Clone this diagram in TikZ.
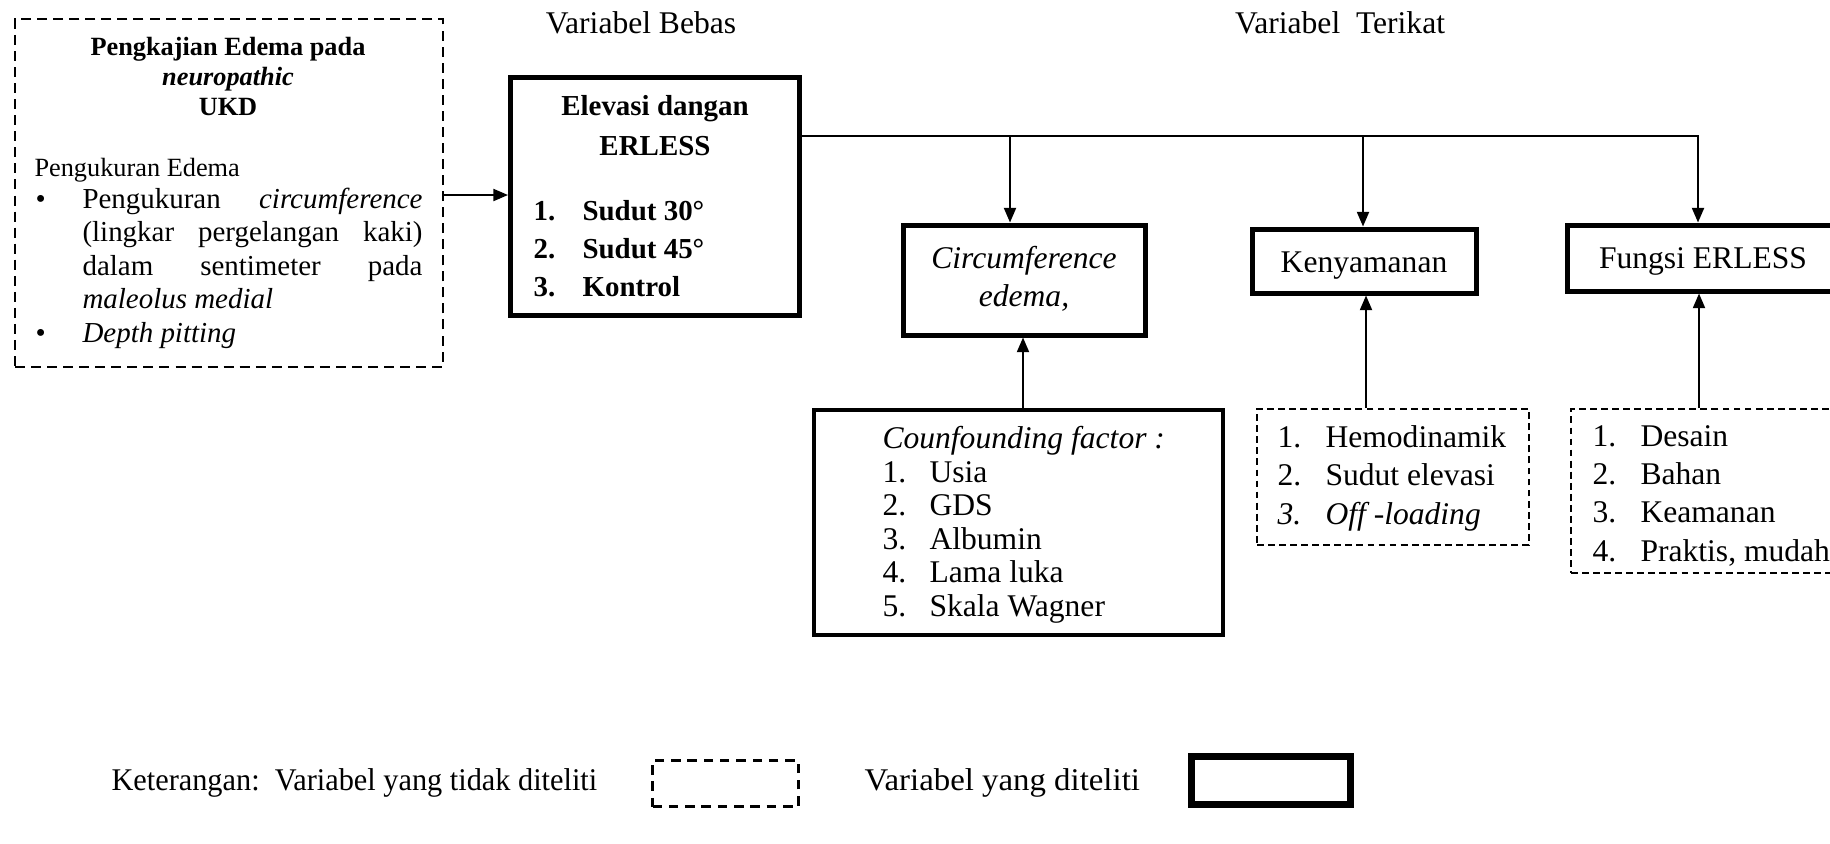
\documentclass[tikz,border=0pt]{standalone}
\usepackage{fontspec}
\setmainfont{Liberation Serif}
\usetikzlibrary{fit,arrows.meta}
\begin{document}
\begin{tikzpicture}[x=0.38pt,y=-0.38pt,
  thickbox/.style={draw,line width=1.9pt,inner sep=0pt},
  medbox/.style={draw,line width=1.5pt,inner sep=0pt},
  dashbox/.style={draw,line width=1pt,dash pattern=on 3.8pt off 2.3pt,inner sep=0pt},
  dashfine/.style={draw,line width=0.8pt,dash pattern=on 2.6pt off 1.6pt,inner sep=0pt},
  conn/.style={line width=0.75pt},
  arr/.style={conn,-{Triangle[width=4.6pt,length=5.6pt]}},
  t12/.style={inner sep=0pt,anchor=base west,font=\fontsize{12}{14}\selectfont},
  t11/.style={inner sep=0pt,anchor=base west,font=\fontsize{11}{13}\selectfont},
  t11b/.style={inner sep=0pt,anchor=base west,font=\fontsize{11}{13}\selectfont\bfseries},
  t10/.style={inner sep=0pt,anchor=base west,font=\fontsize{10}{12}\selectfont},
  t10b/.style={inner sep=0pt,anchor=base,font=\fontsize{10}{12}\selectfont\bfseries},
]
\useasboundingbox (0,0) rectangle (1830,843);
\clip (0,0) rectangle (1830,843);

% headers
\node[t12,anchor=base] (vb) at (641,33) {Variabel Bebas};
\node[t12,anchor=base] (vt) at (1340,33) {Variabel\ \ Terikat};

% left dashed box
\node[dashbox,fit={(15,19) (443,367)}] (lbox) {};
\node[t10b] (lt1) at (228,55) {Pengkajian Edema pada};
\node[t10b] (lt2) at (228,85) {\textit{neuropathic}};
\node[t10b] (lt3) at (228,115) {UKD};
\node[t10] (lpe) at (34,176) {Pengukuran Edema};
\node[t11] (lb1) at (35,208) {\textbullet};
\node[t11] (l1) at (82,208) {\hbox to 129.2pt{Pengukuran\hfill\textit{circumference}}};
\node[t11] (l2) at (82,241.5) {\hbox to 129.2pt{(lingkar\hfill pergelangan\hfill kaki)}};
\node[t11] (l3) at (82,275) {\hbox to 129.2pt{dalam\hfill sentimeter\hfill pada}};
\node[t11] (l4) at (82,308.5) {\textit{maleolus medial}};
\node[t11] (lb2) at (35,342) {\textbullet};
\node[t11] (l5) at (82,342) {\textit{Depth pitting}};

% Elevasi box
\node[thickbox,fit={(510.5,77.5) (799.5,315.5)}] (elev) {};
\node[t11b,anchor=base] (e1) at (655,115) {Elevasi dangan};
\node[t11b,anchor=base] (e2) at (655,155) {ERLESS};
\node[t11b] (en1) at (533,220) {1.};
\node[t11b] (et1) at (582,220) {Sudut 30°};
\node[t11b] (en2) at (533,258) {2.};
\node[t11b] (et2) at (582,258) {Sudut 45°};
\node[t11b] (en3) at (533,296) {3.};
\node[t11b] (et3) at (582,296) {Kontrol};

% dependent variable boxes
\node[thickbox,fit={(903,225) (1145,335)}] (circ) {};
\node[t12,anchor=base] (c1) at (1024,268) {\textit{Circumference}};
\node[t12,anchor=base] (c2) at (1024,306) {\textit{edema,}};

\node[thickbox,fit={(1252,229) (1476,293)}] (keny) {};
\node[t12,anchor=base] (k1) at (1364,272) {Kenyamanan};

\node[thickbox,fit={(1567,225) (1850,291)}] (fungsi) {};
\node[t12,anchor=base] (f1) at (1703,268) {Fungsi ERLESS};

% confounding box
\node[medbox,fit={(814,410) (1223,635)}] (conf) {};
\node[t12] (cf0) at (882,448) {\textit{Counfounding factor :}};
\node[t12] (cn1) at (882,482) {1.};
\node[t12] (ct1) at (929,482) {Usia};
\node[t12] (cn2) at (882,515.5) {2.};
\node[t12] (ct2) at (929,515.5) {GDS};
\node[t12] (cn3) at (882,549) {3.};
\node[t12] (ct3) at (929,549) {Albumin};
\node[t12] (cn4) at (882,582.5) {4.};
\node[t12] (ct4) at (929,582.5) {Lama luka};
\node[t12] (cn5) at (882,616) {5.};
\node[t12] (ct5) at (929,616) {Skala Wagner};

% hemodinamik box
\node[dashfine,fit={(1257,409) (1529,545)}] (hemo) {};
\node[t12] (hn1) at (1277,447) {1.};
\node[t12] (ht1) at (1325,447) {Hemodinamik};
\node[t12] (hn2) at (1277,485.5) {2.};
\node[t12] (ht2) at (1325,485.5) {Sudut elevasi};
\node[t12] (hn3) at (1277,524) {\textit{3.}};
\node[t12] (ht3) at (1325,524) {\textit{Off -loading}};

% desain box
\node[dashfine,fit={(1571,409) (1850,573)}] (desain) {};
\node[t12] (dn1) at (1592,446) {1.};
\node[t12] (dt1) at (1640,446) {Desain};
\node[t12] (dn2) at (1592,484) {2.};
\node[t12] (dt2) at (1640,484) {Bahan};
\node[t12] (dn3) at (1592,522.5) {3.};
\node[t12] (dt3) at (1640,522.5) {Keamanan};
\node[t12] (dn4) at (1592,561) {4.};
\node[t12] (dt4) at (1640,561) {Praktis, mudah};

% legend
\node[t12] (lg1) at (111,790) {\scalebox{0.96}[1]{Keterangan:\ \ Variabel yang tidak diteliti}};
\node[draw,line width=1.1pt,dash pattern=on 3.6pt off 2.6pt,inner sep=0pt,fit={(652.5,760.5) (798.5,806.5)}] (lgd) {};
\node[t12] (lg2) at (864,790) {\scalebox{1.04}[1]{Variabel yang diteliti}};
\node[draw,line width=2.6pt,inner sep=0pt,fit={(1191.5,756.5) (1350.5,804.5)}] (lgt) {};

% connectors
\draw[arr] (lbox.east |- 0,195) -- (elev.west |- 0,195);
\coordinate (bus1) at (1010,136);
\coordinate (bus2) at (1363,136);
\coordinate (bus3) at (1698,136);
\draw[arr] (elev.east |- bus1) -- (bus3) -- (bus3 |- fungsi.north);
\draw[arr] (bus1) -- (bus1 |- circ.north);
\draw[arr] (bus2) -- (bus2 |- keny.north);
\coordinate (u1) at (1023,0);
\coordinate (u2) at (1366,0);
\coordinate (u3) at (1699,0);
\draw[arr] (conf.north -| u1) -- (circ.south -| u1);
\draw[arr] (hemo.north -| u2) -- (keny.south -| u2);
\draw[arr] (desain.north -| u3) -- (fungsi.south -| u3);
\end{tikzpicture}
\end{document}
